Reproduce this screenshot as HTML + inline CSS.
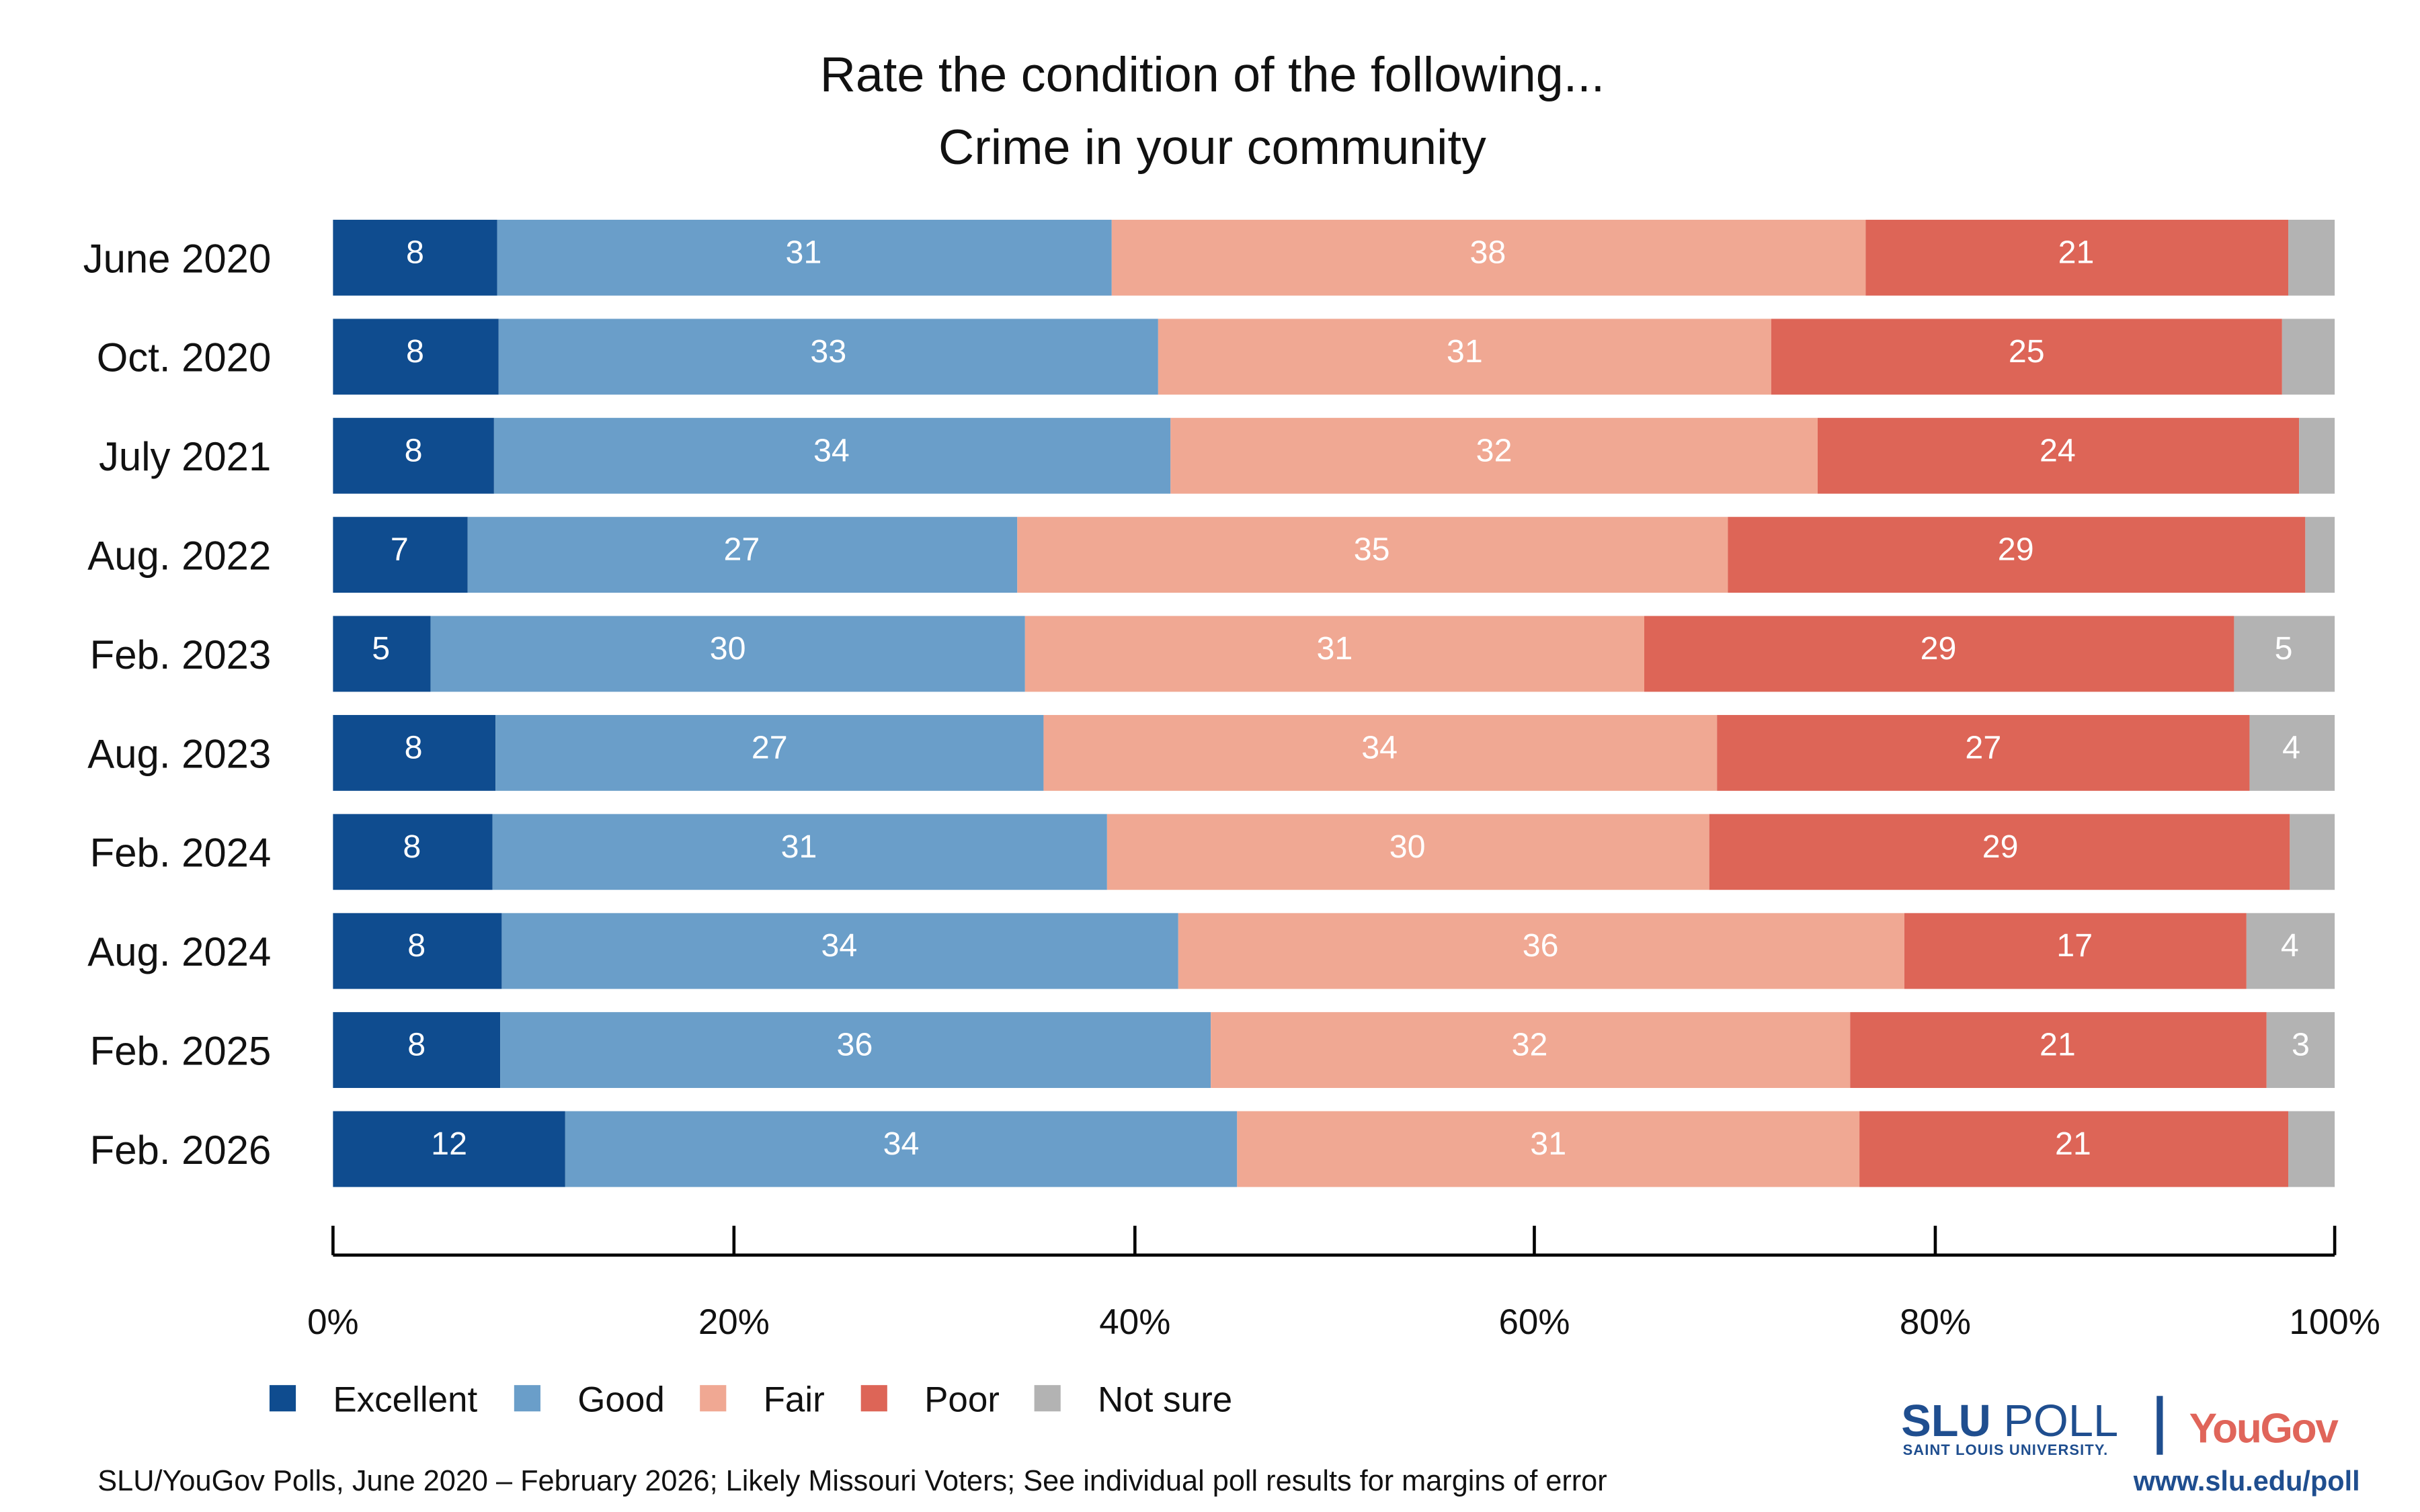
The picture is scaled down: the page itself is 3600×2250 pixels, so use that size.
<!DOCTYPE html>
<html><head><meta charset="utf-8"><style>
html,body{margin:0;padding:0;background:#fff;}
svg{display:block;}
text{font-family:"Liberation Sans",sans-serif;}
.l{font-size:26px;text-anchor:end;fill:#111;}
.n{font-size:21px;text-anchor:middle;fill:#fff;}
.a{fill:#0f4c8f}.b{fill:#6a9ec9}.c{fill:#f0a893}.d{fill:#dd6557}.e{fill:#b3b3b3}
</style></head><body>
<svg width="3600" height="2250" viewBox="0 0 1563 977" xmlns="http://www.w3.org/2000/svg">
<rect width="1563" height="977" fill="#fff"/>
<text x="783" y="59" font-size="32" text-anchor="middle" fill="#111">Rate the condition of the following...</text>
<text x="783" y="106" font-size="32" text-anchor="middle" fill="#111">Crime in your community</text>

<g transform="translate(0,142)">
<text class="l" x="175" y="34">June 2020</text>
<rect class="a" x="215" width="106" height="49"/><rect class="b" x="321" width="397" height="49"/><rect class="c" x="718" width="487" height="49"/><rect class="d" x="1205" width="273" height="49"/><rect class="e" x="1478" width="30" height="49"/>
<text class="n" x="268" y="28">8</text><text class="n" x="519" y="28">31</text><text class="n" x="961" y="28">38</text><text class="n" x="1341" y="28">21</text>
</g>
<g transform="translate(0,206)">
<text class="l" x="175" y="34">Oct. 2020</text>
<rect class="a" x="215" width="107" height="49"/><rect class="b" x="322" width="426" height="49"/><rect class="c" x="748" width="396" height="49"/><rect class="d" x="1144" width="330" height="49"/><rect class="e" x="1474" width="34" height="49"/>
<text class="n" x="268" y="28">8</text><text class="n" x="535" y="28">33</text><text class="n" x="946" y="28">31</text><text class="n" x="1309" y="28">25</text>
</g>
<g transform="translate(0,270)">
<text class="l" x="175" y="34">July 2021</text>
<rect class="a" x="215" width="104" height="49"/><rect class="b" x="319" width="437" height="49"/><rect class="c" x="756" width="418" height="49"/><rect class="d" x="1174" width="311" height="49"/><rect class="e" x="1485" width="23" height="49"/>
<text class="n" x="267" y="28">8</text><text class="n" x="537" y="28">34</text><text class="n" x="965" y="28">32</text><text class="n" x="1329" y="28">24</text>
</g>
<g transform="translate(0,334)">
<text class="l" x="175" y="34">Aug. 2022</text>
<rect class="a" x="215" width="87" height="49"/><rect class="b" x="302" width="355" height="49"/><rect class="c" x="657" width="459" height="49"/><rect class="d" x="1116" width="373" height="49"/><rect class="e" x="1489" width="19" height="49"/>
<text class="n" x="258" y="28">7</text><text class="n" x="479" y="28">27</text><text class="n" x="886" y="28">35</text><text class="n" x="1302" y="28">29</text>
</g>
<g transform="translate(0,398)">
<text class="l" x="175" y="34">Feb. 2023</text>
<rect class="a" x="215" width="63" height="49"/><rect class="b" x="278" width="384" height="49"/><rect class="c" x="662" width="400" height="49"/><rect class="d" x="1062" width="381" height="49"/><rect class="e" x="1443" width="65" height="49"/>
<text class="n" x="246" y="28">5</text><text class="n" x="470" y="28">30</text><text class="n" x="862" y="28">31</text><text class="n" x="1252" y="28">29</text><text class="n" x="1475" y="28">5</text>
</g>
<g transform="translate(0,462)">
<text class="l" x="175" y="34">Aug. 2023</text>
<rect class="a" x="215" width="105" height="49"/><rect class="b" x="320" width="354" height="49"/><rect class="c" x="674" width="435" height="49"/><rect class="d" x="1109" width="344" height="49"/><rect class="e" x="1453" width="55" height="49"/>
<text class="n" x="267" y="28">8</text><text class="n" x="497" y="28">27</text><text class="n" x="891" y="28">34</text><text class="n" x="1281" y="28">27</text><text class="n" x="1480" y="28">4</text>
</g>
<g transform="translate(0,526)">
<text class="l" x="175" y="34">Feb. 2024</text>
<rect class="a" x="215" width="103" height="49"/><rect class="b" x="318" width="397" height="49"/><rect class="c" x="715" width="389" height="49"/><rect class="d" x="1104" width="375" height="49"/><rect class="e" x="1479" width="29" height="49"/>
<text class="n" x="266" y="28">8</text><text class="n" x="516" y="28">31</text><text class="n" x="909" y="28">30</text><text class="n" x="1292" y="28">29</text>
</g>
<g transform="translate(0,590)">
<text class="l" x="175" y="34">Aug. 2024</text>
<rect class="a" x="215" width="109" height="49"/><rect class="b" x="324" width="437" height="49"/><rect class="c" x="761" width="469" height="49"/><rect class="d" x="1230" width="221" height="49"/><rect class="e" x="1451" width="57" height="49"/>
<text class="n" x="269" y="28">8</text><text class="n" x="542" y="28">34</text><text class="n" x="995" y="28">36</text><text class="n" x="1340" y="28">17</text><text class="n" x="1479" y="28">4</text>
</g>
<g transform="translate(0,654)">
<text class="l" x="175" y="34">Feb. 2025</text>
<rect class="a" x="215" width="108" height="49"/><rect class="b" x="323" width="459" height="49"/><rect class="c" x="782" width="413" height="49"/><rect class="d" x="1195" width="269" height="49"/><rect class="e" x="1464" width="44" height="49"/>
<text class="n" x="269" y="28">8</text><text class="n" x="552" y="28">36</text><text class="n" x="988" y="28">32</text><text class="n" x="1329" y="28">21</text><text class="n" x="1486" y="28">3</text>
</g>
<g transform="translate(0,718)">
<text class="l" x="175" y="34">Feb. 2026</text>
<rect class="a" x="215" width="150" height="49"/><rect class="b" x="365" width="434" height="49"/><rect class="c" x="799" width="402" height="49"/><rect class="d" x="1201" width="277" height="49"/><rect class="e" x="1478" width="30" height="49"/>
<text class="n" x="290" y="28">12</text><text class="n" x="582" y="28">34</text><text class="n" x="1000" y="28">31</text><text class="n" x="1339" y="28">21</text>
</g>

<g stroke="#000" stroke-width="2">
<line x1="215" y1="811" x2="1508" y2="811"/>
<line x1="215" y1="792" x2="215" y2="811"/><line x1="474" y1="792" x2="474" y2="811"/>
<line x1="733" y1="792" x2="733" y2="811"/><line x1="991" y1="792" x2="991" y2="811"/>
<line x1="1250" y1="792" x2="1250" y2="811"/><line x1="1508" y1="792" x2="1508" y2="811"/>
</g>
<g font-size="23" text-anchor="middle" fill="#111">
<text x="215" y="862">0%</text><text x="474" y="862">20%</text><text x="733" y="862">40%</text>
<text x="991" y="862">60%</text><text x="1250" y="862">80%</text><text x="1508" y="862">100%</text>
</g>
<g font-size="23" fill="#111">
<rect x="174" y="895" width="17" height="17" fill="#0f4c8f"/><text x="215" y="912">Excellent</text>
<rect x="332" y="895" width="17" height="17" fill="#6a9ec9"/><text x="373" y="912">Good</text>
<rect x="452" y="895" width="17" height="17" fill="#f0a893"/><text x="493" y="912">Fair</text>
<rect x="556" y="895" width="17" height="17" fill="#dd6557"/><text x="597" y="912">Poor</text>
<rect x="668" y="895" width="17" height="17" fill="#b3b3b3"/><text x="709" y="912">Not sure</text>
</g>
<text x="63" y="963" font-size="18.8" fill="#111">SLU/YouGov Polls, June 2020 – February 2026; Likely Missouri Voters; See individual poll results for margins of error</text>
<text x="1228" y="928" font-size="29" font-weight="bold" fill="#1f4e8f">SLU <tspan font-weight="normal">POLL</tspan></text>
<text x="1229" y="940" font-size="9.5" font-weight="bold" fill="#1f4e8f" letter-spacing="0.5">SAINT LOUIS UNIVERSITY.</text>
<rect x="1393" y="902" width="4" height="38" fill="#1f4e8f"/>
<text x="1414" y="932" font-size="27" font-weight="bold" fill="#e0655a" letter-spacing="-1">YouGov</text>
<text x="1378" y="963" font-size="18" font-weight="bold" fill="#1f4e8f">www.slu.edu/poll</text>
</svg>
</body></html>
